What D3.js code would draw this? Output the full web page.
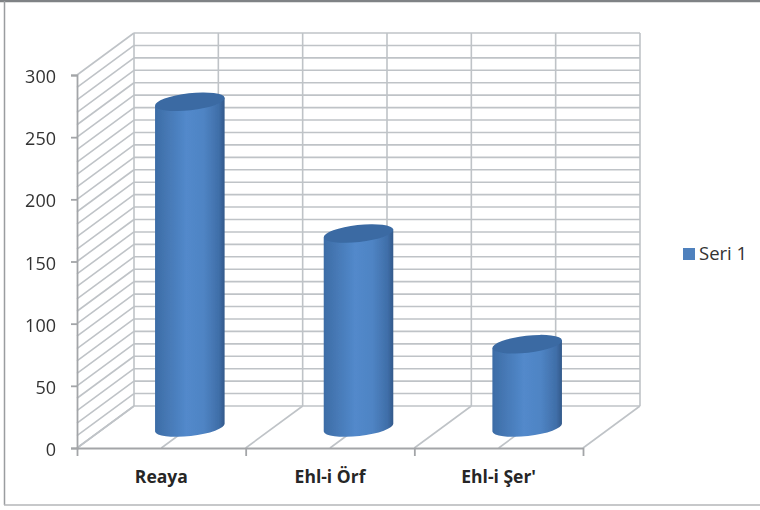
<!DOCTYPE html>
<html>
<head>
<meta charset="utf-8">
<script src="https://cdn.jsdelivr.net/npm/d3@7"></script>
<style>
html, body { margin: 0; padding: 0; background: #fff; }
svg { display: block; font-family: "Open Sans", sans-serif; }
</style>
</head>
<body>
<svg id="chart" width="760" height="510"></svg>
<script>
const categories = ['Reaya', 'Ehl-i Örf', "Ehl-i Şer'"];
const values = [262, 156, 67];
const yTicks = [0, 50, 100, 150, 200, 250, 300];
const gridValues = d3.range(0, 301, 10);
const seriesName = 'Seri 1';

const svg = d3.select('#chart');

// front plane of the box, the back wall sits up and to the right of it
const plotLeft = 77, plotRight = 583, plotBottom = 448, plotTop = 75;
const depthX = 57, depthY = -42;

const y = d3.scaleLinear().domain([0, 300]).range([plotBottom, plotTop]);
const x = d3.scaleBand().domain(categories).range([plotLeft, plotRight]);
const halves = d3.range(0, 6.5, 1);
const xGrid = d3.scaleLinear().domain([0, 6]).range([plotLeft, plotRight]);
const xEdge = d3.scaleLinear().domain([0, 3]).range([plotLeft, plotRight]);

const gridColor = '#bfc3c7';
const axisColor = '#a3a5a8';

// blue cylinder shading
const defs = svg.append('defs');
const grad = defs.append('linearGradient').attr('id', 'cyl');
[[0, '#3c6ca6'], [0.1, '#4273ae'], [0.45, '#5289cb'], [0.7, '#4f84c4'], [0.92, '#3f6ea8'], [1, '#33598a']]
    .forEach(s => grad.append('stop').attr('offset', s[0]).attr('stop-color', s[1]));
// the scanned look, region is wide because some groups are translated
defs.append('filter').attr('id', 'soft')
    .attr('filterUnits', 'userSpaceOnUse')
    .attr('x', -800).attr('y', -800).attr('width', 2400).attr('height', 2400)
    .append('feGaussianBlur').attr('stdDeviation', 0.45);

// picture frame
const frame = svg.append('g').attr('filter', 'url(#soft)');
frame.append('line').attr('x1', 0).attr('x2', 760).attr('y1', 1).attr('y2', 1)
    .attr('stroke', '#7f8285').attr('stroke-width', 2.5);
frame.append('line').attr('x1', 4.5).attr('x2', 4.5).attr('y1', 1).attr('y2', 505)
    .attr('stroke', '#9a9da0').attr('stroke-width', 1.5);
frame.append('line').attr('x1', 4).attr('x2', 760).attr('y1', 505).attr('y2', 505)
    .attr('stroke', '#b4b6b8').attr('stroke-width', 1.5);

const walls = svg.append('g').attr('fill', 'none').attr('stroke', gridColor).attr('stroke-width', 1.6)
    .attr('filter', 'url(#soft)');

// horizontal lines on the back wall, diagonals on the side wall
gridValues.forEach(v => {
    walls.append('line')
        .attr('x1', plotLeft + depthX).attr('x2', plotRight + depthX)
        .attr('y1', y(v) + depthY).attr('y2', y(v) + depthY);
    walls.append('line')
        .attr('x1', plotLeft).attr('x2', plotLeft + depthX)
        .attr('y1', y(v)).attr('y2', y(v) + depthY);
});

// verticals on the back wall and their floor lines
halves.forEach(i => {
    walls.append('line')
        .attr('x1', xGrid(i) + depthX).attr('x2', xGrid(i) + depthX)
        .attr('y1', y(0) + depthY).attr('y2', y(300) + depthY);
    walls.append('line')
        .attr('x1', xGrid(i)).attr('x2', xGrid(i) + depthX)
        .attr('y1', y(0)).attr('y2', y(0) + depthY);
});

// axes
const yAxis = svg.append('g').attr('transform', `translate(${plotLeft},0)`)
    .call(d3.axisLeft(y).tickValues(yTicks).tickSize(6).tickPadding(15));
const xAxis = svg.append('g').attr('transform', `translate(0,${plotBottom})`)
    .call(d3.axisBottom(xEdge).tickValues([0, 1, 2, 3]).tickFormat('').tickSize(8).tickSizeOuter(0));
[yAxis, xAxis].forEach(a => {
    a.attr('filter', 'url(#soft)');
    a.selectAll('path, line').attr('stroke', axisColor).attr('stroke-width', 1.8);
});
yAxis.selectAll('text').attr('font-size', 18).attr('fill', '#333').attr('dy', '0.42em')
    .attr('font-family', '"Open Sans", sans-serif');

// cylinders
const rx = 35, ry = 8.5, tilt = -6.5;
const rad = tilt * Math.PI / 180;
const floorY = y(0) + depthY / 2 + 0.5;
const dx = rx * Math.cos(rad), dy = rx * Math.sin(rad);

const bars = svg.selectAll('g.bar').data(values).enter().append('g')
    .attr('class', 'bar').attr('filter', 'url(#soft)');

bars.append('path')
    .attr('fill', 'url(#cyl)')
    .attr('d', (d, i) => {
        const cx = x(categories[i]) + x.bandwidth() / 2 + depthX / 2;
        const ty = floorY - (plotBottom - y(d));
        return `M${cx - dx},${ty - dy}L${cx + dx},${ty + dy}L${cx + dx},${floorY + dy}` +
            `A${rx},${ry} ${tilt} 0 1 ${cx - dx},${floorY - dy}Z`;
    });

bars.append('ellipse')
    .attr('fill', '#3a6aa3')
    .attr('rx', rx).attr('ry', ry)
    .attr('transform', (d, i) => {
        const cx = x(categories[i]) + x.bandwidth() / 2 + depthX / 2;
        return `translate(${cx},${floorY - (plotBottom - y(d))}) rotate(${tilt})`;
    });

// category labels
svg.selectAll('text.cat').data(categories).enter().append('text')
    .attr('class', 'cat')
    .attr('x', d => x(d) + x.bandwidth() / 2)
    .attr('y', 483)
    .attr('text-anchor', 'middle')
    .attr('font-size', 17.5)
    .attr('font-weight', 700)
    .attr('fill', '#262626')
    .text(d => d);

// legend
svg.append('rect').attr('x', 683).attr('y', 248).attr('width', 12).attr('height', 12)
    .attr('fill', '#4f81bd');
svg.append('text').attr('x', 699).attr('y', 260)
    .attr('font-size', 18.5).attr('fill', '#333').text(seriesName);
</script>
</body>
</html>
